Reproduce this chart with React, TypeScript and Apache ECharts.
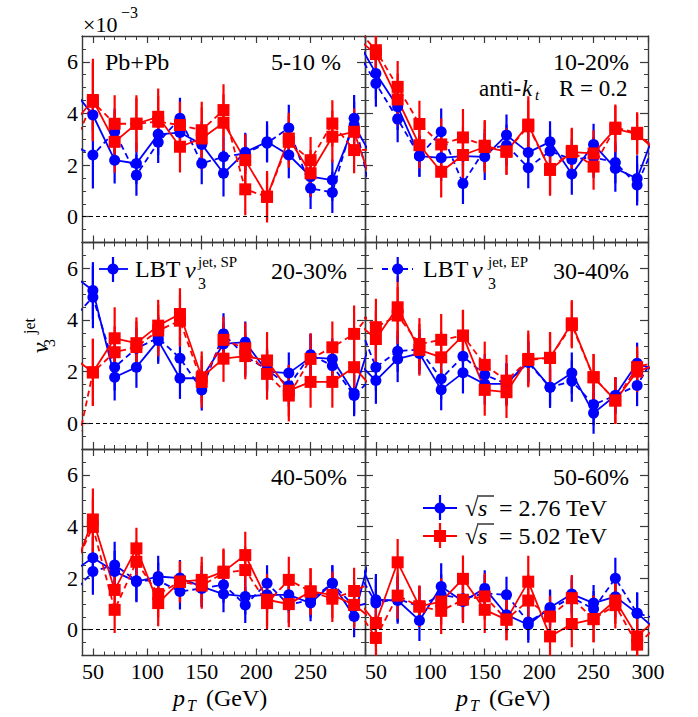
import React, { useEffect, useRef } from 'react';
import * as echarts from 'echarts';

// ---------- data ----------
// pT bin centres (GeV). First and last entries lie just outside the frame:
// the connecting lines run off the panel edges towards them.
const pT = [30, 50, 70, 90, 110, 130, 150, 170, 190, 210, 230, 250, 270, 290, 310];

const xMajorTicks = [50, 100, 150, 200, 250, 300];
const xLabelsLeft = [50, 100, 150, 200, 250];
const xLabelsRight = [50, 100, 150, 200, 250, 300];
const yMajorTicks = [0, 2, 4, 6];

const centralityLabels = ['5-10 %', '10-20%', '20-30%', '30-40%', '40-50%', '50-60%'];

// v3 (x 10^-3) values, 15 entries (pT above); errors, 13 entries (pT 50..290)
// 5-10 %
const c1_sp276 = [5.0, 3.94, 2.19, 2.06, 3.19, 3.26, 2.8, 1.68, 2.5, 2.9, 2.39, 1.55, 1.42, 3.55, 2.05];
const c1_ep276 = [2.8, 2.39, 3.29, 1.61, 2.88, 3.81, 2.06, 2.32, 2.45, 2.85, 3.44, 1.1, 0.94, 3.81, 0.0];
const c1_sp502 = [3.5, 4.52, 2.9, 3.6, 3.87, 2.71, 3.03, 3.64, 2.19, 0.77, 3.03, 1.68, 3.1, 3.29, 0.83];
const c1_ep502 = [2.55, 4.45, 3.6, 3.6, 3.68, 3.55, 3.35, 4.13, 1.06, 0.77, 2.9, 2.19, 3.61, 2.58, 2.6];
const c1_sp276_err = [0.6, 0.9, 0.8, 0.8, 0.7, 0.9, 0.9, 0.7, 0.8, 0.9, 0.8, 0.8, 0.9];
const c1_ep276_err = [1.3, 0.9, 0.8, 0.8, 0.8, 0.8, 0.8, 0.8, 0.7, 0.9, 0.8, 0.8, 0.9];
const c1_sp502_err = [1.6, 1.2, 1.1, 1.1, 1.0, 1.2, 1.1, 1.0, 1.0, 1.0, 0.9, 1.0, 0.9];
const c1_ep502_err = [1.5, 1.1, 1.0, 1.0, 0.9, 1.1, 1.0, 1.0, 0.9, 1.0, 0.9, 0.9, 0.9];

// 10-20%
const c2_sp276 = [7.05, 5.55, 4.26, 2.35, 2.28, 2.35, 2.32, 3.16, 2.49, 2.9, 1.65, 2.8, 1.87, 1.48, 3.7];
const c2_ep276 = [6.64, 5.16, 3.78, 2.35, 3.29, 1.29, 2.6, 2.77, 1.9, 2.54, 2.22, 2.3, 2.1, 1.23, 3.2];
const c2_sp502 = [7.0, 6.3, 4.54, 2.77, 1.74, 2.39, 2.7, 2.52, 3.57, 1.81, 2.5, 2.45, 3.4, 3.2, 2.45];
const c2_ep502 = [7.4, 6.45, 5.03, 3.59, 2.8, 3.07, 2.75, 2.52, 3.5, 1.85, 2.55, 1.94, 3.45, 3.25, 2.5];
const c2_sp276_err = [1.0, 0.9, 0.8, 0.9, 0.8, 0.9, 0.8, 0.8, 0.8, 0.8, 0.8, 0.9, 0.9];
const c2_ep276_err = [0.9, 0.9, 0.8, 0.9, 0.8, 0.8, 0.8, 0.8, 0.8, 0.8, 0.8, 0.8, 0.8];
const c2_sp502_err = [1.2, 1.0, 0.9, 1.0, 1.1, 1.0, 0.9, 1.1, 1.0, 0.9, 0.9, 0.9, 0.8];
const c2_ep502_err = [1.2, 1.0, 0.9, 1.0, 1.1, 1.0, 0.9, 1.0, 1.0, 0.9, 0.9, 0.9, 0.8];

// 20-30%
const c3_sp276 = [5.78, 5.14, 1.78, 2.17, 3.2, 1.74, 1.74, 3.07, 3.14, 2.0, 1.94, 2.55, 2.49, 1.16, 3.84];
const c3_ep276 = [3.98, 4.88, 2.17, 2.9, 3.3, 2.52, 1.29, 3.46, 2.6, 2.07, 1.45, 2.65, 2.23, 1.07, 1.9];
const c3_sp502 = [2.6, 1.97, 3.29, 3.1, 3.78, 4.23, 1.78, 2.5, 2.6, 2.43, 1.26, 1.6, 1.6, 2.17, 1.2];
const c3_ep502 = [-2.0, 1.97, 2.75, 2.95, 3.59, 3.97, 1.6, 3.23, 2.9, 1.91, 1.07, 2.49, 2.94, 3.46, 4.54];
const c3_sp276_err = [1.1, 0.9, 0.8, 0.9, 0.8, 0.7, 0.8, 0.8, 0.8, 0.8, 0.9, 0.8, 0.8];
const c3_ep276_err = [1.2, 0.9, 0.8, 0.9, 0.8, 0.8, 0.8, 0.8, 0.8, 0.8, 0.8, 0.8, 0.8];
const c3_sp502_err = [1.3, 1.2, 1.0, 1.0, 1.0, 1.0, 0.9, 0.9, 1.1, 1.0, 1.0, 1.0, 1.1];
const c3_ep502_err = [1.3, 1.0, 1.0, 1.0, 1.0, 1.0, 0.9, 1.0, 1.0, 1.0, 1.0, 1.0, 1.1];

// 30-40%
const c4_sp276 = [2.5, 1.65, 2.49, 2.7, 1.3, 1.95, 1.52, 1.52, 2.4, 1.39, 1.94, 0.39, 1.07, 2.32, 2.0];
const c4_ep276 = [4.3, 2.17, 2.79, 2.85, 1.72, 2.59, 1.88, 1.52, 2.35, 1.39, 1.63, 0.72, 1.07, 1.46, 2.9];
const c4_sp502 = [4.0, 3.26, 4.49, 2.84, 2.55, 3.39, 1.29, 1.2, 2.49, 2.53, 3.87, 1.78, 0.88, 2.0, 2.3];
const c4_ep502 = [4.4, 3.72, 4.17, 3.07, 3.23, 3.39, 2.26, 1.65, 2.45, 2.53, 3.8, 1.78, 0.88, 2.17, 2.4];
const c4_sp276_err = [0.9, 0.9, 0.8, 0.8, 0.8, 0.8, 0.8, 0.8, 0.7, 0.8, 0.8, 0.7, 0.8];
const c4_ep276_err = [0.9, 0.8, 0.8, 0.8, 0.8, 0.8, 0.8, 0.8, 0.8, 0.8, 0.8, 0.7, 0.8];
const c4_sp502_err = [1.1, 1.2, 1.0, 1.0, 1.0, 1.0, 1.0, 1.1, 1.0, 0.9, 0.9, 0.9, 0.8];
const c4_ep502_err = [1.1, 1.1, 1.0, 1.0, 1.0, 0.9, 1.0, 1.0, 1.0, 0.9, 0.9, 0.9, 0.8];

// 40-50%
const c5_sp276 = [2.2, 2.79, 2.25, 1.86, 2.06, 2.0, 1.67, 1.38, 1.29, 1.35, 1.35, 1.03, 1.8, 0.51, 3.7];
const c5_ep276 = [1.35, 2.25, 2.51, 1.9, 1.9, 1.48, 1.6, 1.74, 0.96, 1.8, 0.96, 1.16, 1.8, 0.9, 1.1];
const c5_sp502 = [2.0, 4.27, 1.54, 3.15, 1.03, 1.86, 1.93, 2.25, 2.89, 1.16, 0.99, 1.48, 1.35, 0.96, 0.3];
const c5_ep502 = [2.2, 3.98, 0.77, 2.63, 1.38, 1.86, 1.71, 2.2, 2.31, 1.03, 1.93, 1.48, 1.2, 1.5, 1.9];
const c5_sp276_err = [0.8, 0.8, 0.8, 0.8, 0.7, 0.8, 0.7, 0.7, 0.7, 0.7, 0.7, 0.7, 0.8];
const c5_ep276_err = [0.9, 0.9, 0.8, 0.7, 0.7, 0.7, 0.7, 0.7, 0.7, 0.7, 0.7, 0.7, 0.8];
const c5_sp502_err = [1.2, 1.0, 0.8, 0.9, 0.8, 0.9, 0.9, 0.9, 1.0, 0.9, 0.9, 0.9, 0.9];
const c5_ep502_err = [1.1, 0.9, 0.8, 0.9, 0.8, 0.9, 0.9, 0.9, 1.0, 0.9, 0.9, 0.9, 0.9];

// 50-60%
const c6_sp276 = [3.2, 1.16, 1.13, 0.36, 1.67, 1.09, 1.6, 0.58, 0.19, 0.86, 1.38, 1.03, 1.28, 0.64, -0.1];
const c6_ep276 = [2.5, 1.03, 1.2, 0.9, 1.35, 1.2, 1.41, 1.35, 0.3, 0.8, 1.25, 0.8, 1.99, 0.64, 0.4];
const c6_sp502 = [1.3, 0.26, 2.61, 0.9, 1.09, 1.97, 0.77, 0.39, 1.86, -0.26, 0.22, 0.41, 1.13, -0.26, 0.5];
const c6_ep502 = [1.0, -0.32, 1.32, 0.9, 0.73, 1.16, 1.29, 0.39, 1.13, 0.51, 1.22, 0.41, 0.95, -0.58, 0.2];
const c6_sp276_err = [1.0, 0.9, 0.8, 0.9, 0.8, 0.7, 0.7, 0.7, 0.7, 0.7, 0.7, 0.8, 0.8];
const c6_ep276_err = [1.0, 0.9, 0.8, 0.8, 0.8, 0.7, 0.7, 0.7, 0.7, 0.7, 0.7, 0.8, 0.8];
const c6_sp502_err = [0.9, 0.9, 0.8, 0.9, 0.9, 0.9, 0.8, 1.0, 0.8, 0.9, 0.9, 0.9, 0.8];
const c6_ep502_err = [0.9, 0.9, 0.8, 0.9, 0.9, 0.9, 0.8, 1.0, 0.8, 0.9, 0.9, 0.9, 0.8];

// ---------- layout / style ----------
const FONT = 'Liberation Serif';
const BLUE = '#0000ff';
const RED = '#ff0000';
const AXIS = '#3a3a3a';
const GW = 283;
const GH = 206.5;
const gridPos = [
  [82, 36], [365, 36],
  [82, 242.5], [365, 242.5],
  [82, 449], [365, 449],
];

const panels = [
  { sp276: c1_sp276, ep276: c1_ep276, sp502: c1_sp502, ep502: c1_ep502, esp276: c1_sp276_err, eep276: c1_ep276_err, esp502: c1_sp502_err, eep502: c1_ep502_err },
  { sp276: c2_sp276, ep276: c2_ep276, sp502: c2_sp502, ep502: c2_ep502, esp276: c2_sp276_err, eep276: c2_ep276_err, esp502: c2_sp502_err, eep502: c2_ep502_err },
  { sp276: c3_sp276, ep276: c3_ep276, sp502: c3_sp502, ep502: c3_ep502, esp276: c3_sp276_err, eep276: c3_ep276_err, esp502: c3_sp502_err, eep502: c3_ep502_err },
  { sp276: c4_sp276, ep276: c4_ep276, sp502: c4_sp502, ep502: c4_ep502, esp276: c4_sp276_err, eep276: c4_ep276_err, esp502: c4_sp502_err, eep502: c4_ep502_err },
  { sp276: c5_sp276, ep276: c5_ep276, sp502: c5_sp502, ep502: c5_ep502, esp276: c5_sp276_err, eep276: c5_ep276_err, esp502: c5_sp502_err, eep502: c5_ep502_err },
  { sp276: c6_sp276, ep276: c6_ep276, sp502: c6_sp502, ep502: c6_ep502, esp276: c6_sp276_err, eep276: c6_ep276_err, esp502: c6_sp502_err, eep502: c6_ep502_err },
];

function buildOption() {
  const grid: any[] = [];
  const xAxis: any[] = [];
  const yAxis: any[] = [];
  const series: any[] = [];

  const labelStyle = { fontFamily: FONT, fontSize: 22, color: '#000' };
  const axLine = { show: true, onZero: false, lineStyle: { color: AXIS, width: 1.4 } };
  const noLine = { show: false, onZero: false };
  const majTick = { show: true, inside: true, length: 7, lineStyle: { color: AXIS, width: 1.2 } };
  const minTick = { show: true, inside: true, length: 4, lineStyle: { color: AXIS, width: 1.0 } };

  panels.forEach((p, g) => {
    const [left, top] = gridPos[g];
    grid.push({ left, top, width: GW, height: GH, containLabel: false });
    const isBottom = g >= 4;
    const isLeft = g % 2 === 0;
    const xb = { type: 'value', gridIndex: g, min: 40, max: 300, splitLine: { show: false } };
    xAxis.push(
      {
        ...xb, position: 'bottom', axisLine: axLine,
        axisTick: { ...majTick, customValues: xMajorTicks },
        axisLabel: { show: isBottom, customValues: isLeft ? xLabelsLeft : xLabelsRight, margin: 5, ...labelStyle },
      },
      { ...xb, position: 'bottom', interval: 10, axisLine: noLine, axisTick: minTick, axisLabel: { show: false } },
      { ...xb, position: 'top', axisLine: axLine, axisTick: { ...majTick, customValues: xMajorTicks }, axisLabel: { show: false } },
      { ...xb, position: 'top', interval: 10, axisLine: noLine, axisTick: minTick, axisLabel: { show: false } },
    );
    const yb = { type: 'value', gridIndex: g, min: -1, max: 7, splitLine: { show: false } };
    yAxis.push(
      {
        ...yb, position: 'left', axisLine: axLine,
        axisTick: { ...majTick, length: 8, customValues: yMajorTicks },
        axisLabel: { show: isLeft, customValues: yMajorTicks, margin: 4, ...labelStyle },
      },
      { ...yb, position: 'left', interval: 0.5, axisLine: noLine, axisTick: minTick, axisLabel: { show: false } },
      { ...yb, position: 'right', axisLine: axLine, axisTick: { ...majTick, length: 8, customValues: yMajorTicks }, axisLabel: { show: false } },
      { ...yb, position: 'right', interval: 0.5, axisLine: noLine, axisTick: minTick, axisLabel: { show: false } },
    );

    const ax = g * 4;
    const errSeries = (vals: number[], errs: number[], color: string) => ({
      type: 'custom', xAxisIndex: ax, yAxisIndex: ax, clip: true, silent: true,
      data: errs.map((e, k) => [pT[k + 1], vals[k + 1], e]),
      encode: { x: 0, y: 1 },
      renderItem: (_params: any, api: any) => {
        const x = api.value(0), y = api.value(1), e = api.value(2);
        const a = api.coord([x, y - e]);
        const b = api.coord([x, y + e]);
        return { type: 'line', shape: { x1: a[0], y1: a[1], x2: b[0], y2: b[1] }, style: { stroke: color, lineWidth: 2.2 } };
      },
    });
    const lineSeries = (vals: number[], color: string, dashed: boolean, symbol: string, extra: any = {}) => ({
      type: 'line', xAxisIndex: ax, yAxisIndex: ax, clip: true, silent: true,
      data: pT.map((x, k) => (k === 0 || k === pT.length - 1 ? { value: [x, vals[k]], symbol: 'none' } : [x, vals[k]])),
      symbol, symbolSize: symbol === 'circle' ? 11 : 12, showSymbol: true,
      lineStyle: { color, width: 1.8, type: dashed ? [6, 4] : 'solid' },
      itemStyle: { color },
      ...extra,
    });

    series.push(
      errSeries(p.sp276, p.esp276, BLUE),
      errSeries(p.ep276, p.eep276, BLUE),
      lineSeries(p.sp276, BLUE, false, 'circle', {
        markLine: {
          silent: true, symbol: ['none', 'none'], label: { show: false },
          lineStyle: { color: '#000', width: 1, type: [4, 3] },
          data: [{ yAxis: 0 }],
        },
      }),
      lineSeries(p.ep276, BLUE, true, 'circle'),
      errSeries(p.sp502, p.esp502, RED),
      errSeries(p.ep502, p.eep502, RED),
      lineSeries(p.sp502, RED, false, 'rect'),
      lineSeries(p.ep502, RED, true, 'rect'),
    );
  });

  const T = (x: number, y: number, text: string, size: number, st: any = {}, top: any = {}) => ({
    type: 'text', x, y, silent: true, z: 100, ...top,
    style: { text, fontSize: size, fontFamily: FONT, fill: '#000', align: 'left', verticalAlign: 'middle', ...st },
  });
  const L = (x1: number, y1: number, x2: number, y2: number, color: string, w: number, dash?: number[]) => ({
    type: 'line', silent: true, z: 100,
    shape: { x1, y1, x2, y2 },
    style: { stroke: color, lineWidth: w, lineDash: dash || null },
  });
  const it = { fontStyle: 'italic' };
  const rot = { rotation: Math.PI / 2 };

  const graphic: any[] = [
    // x 10^-3
    T(83, 24, '×10', 22),
    T(121, 12, '−3', 16),
    // panel texts
    T(105, 62, 'Pb+Pb', 24),
    T(341, 62, centralityLabels[0], 24, { align: 'right' }),
    T(629, 62, centralityLabels[1], 24, { align: 'right' }),
    T(479, 88, 'anti-', 23),
    T(522, 88, 'k', 23, it),
    T(535, 95, 't', 15, it),
    T(559, 88, 'R = 0.2', 23),
    T(347, 271, centralityLabels[2], 24, { align: 'right' }),
    T(629, 271, centralityLabels[3], 24, { align: 'right' }),
    T(347, 477, centralityLabels[4], 24, { align: 'right' }),
    T(629, 477, centralityLabels[5], 24, { align: 'right' }),
    // legend SP
    L(99, 269, 128, 269, BLUE, 1.8),
    L(113, 257, 113, 282, BLUE, 2.2),
    { type: 'circle', silent: true, z: 101, shape: { cx: 113, cy: 269, r: 5.5 }, style: { fill: BLUE } },
    T(135, 269, 'LBT', 24),
    T(185, 270, 'v', 24, it),
    T(198, 262, 'jet, SP', 15),
    T(198, 283, '3', 16),
    // legend EP
    L(382, 269, 413, 269, BLUE, 1.8, [6, 4]),
    L(397.7, 257, 397.7, 282, BLUE, 2.2),
    { type: 'circle', silent: true, z: 101, shape: { cx: 397.7, cy: 269, r: 5.5 }, style: { fill: BLUE } },
    T(423, 269, 'LBT', 24),
    T(472, 270, 'v', 24, it),
    T(488, 262, 'jet, EP', 15),
    T(488, 283, '3', 16),
    // legend energies
    L(423, 508, 457, 508, BLUE, 1.8),
    L(440, 495, 440, 520, BLUE, 2.2),
    { type: 'circle', silent: true, z: 101, shape: { cx: 440, cy: 508, r: 5.5 }, style: { fill: BLUE } },
    T(465, 508, '√', 24),
    T(478, 508, 's', 24, it),
    L(477, 496, 494, 496, '#000', 1.2),
    T(499, 508, '= 2.76 TeV', 24),
    L(423, 536, 457, 536, RED, 1.8),
    L(440, 523, 440, 548, RED, 2.2),
    { type: 'rect', silent: true, z: 101, shape: { x: 434, y: 530, width: 12, height: 12 }, style: { fill: RED } },
    T(465, 536, '√', 24),
    T(478, 536, 's', 24, it),
    L(477, 524, 494, 524, '#000', 1.2),
    T(499, 536, '= 5.02 TeV', 24),
    // x titles
    T(173, 698, 'p', 24, it),
    T(187, 705, 'T', 16, it),
    T(206, 698, '(GeV)', 24),
    T(456, 698, 'p', 24, it),
    T(470, 705, 'T', 16, it),
    T(489, 698, '(GeV)', 24),
    // y title
    T(40, 348, 'v', 24, { ...it, align: 'center' }, rot),
    T(29, 326, 'jet', 16, { align: 'center' }, rot),
    T(49, 343, '3', 16, { align: 'center' }, rot),
  ];

  return {
    animation: false,
    backgroundColor: '#ffffff',
    textStyle: { fontFamily: FONT },
    grid, xAxis, yAxis, series, graphic,
  };
}

export default function App() {
  const ref = useRef<HTMLDivElement>(null);
  useEffect(() => {
    if (!ref.current) return;
    const chart = echarts.init(ref.current, undefined, { renderer: 'svg' });
    chart.setOption(buildOption() as any);
    return () => chart.dispose();
  }, []);
  return <div ref={ref} style={{ position: 'fixed', left: 0, top: 0, width: 698, height: 717, background: '#fff' }} />;
}
